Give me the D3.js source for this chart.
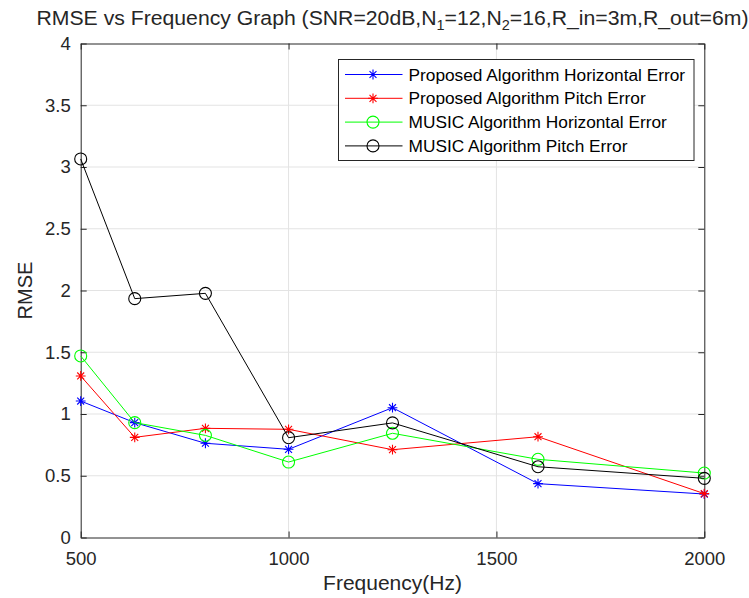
<!DOCTYPE html>
<html lang="en">
<head>
<meta charset="utf-8">
<script src="https://cdn.jsdelivr.net/npm/d3@7"></script>
<style>
  body { margin: 0; background: #fff; }
  svg text { font-family: "Liberation Sans", Arial, Helvetica, sans-serif; fill: #262626; }
  .legend text { fill: #000; }
</style>
</head>
<body>
<div id="chart"></div>
<script>
  // data
  let freqs = [500, 630, 800, 1000, 1250, 1600, 2000]
  let propHoriz = [1.105, 0.93, 0.763, 0.714, 1.051, 0.436, 0.352]
  let propPitch = [1.308, 0.811, 0.884, 0.876, 0.711, 0.816, 0.355]
  let musicHoriz = [1.47, 0.93, 0.827, 0.611, 0.844, 0.633, 0.522]
  let musicPitch = [3.065, 1.934, 1.977, 0.808, 0.928, 0.573, 0.479]
  let xTicks = [500, 1000, 1500, 2000]
  let yTicks = [0, 0.5, 1, 1.5, 2, 2.5, 3, 3.5, 4]
  let seriesNames = ['Proposed Algorithm Horizontal Error', 'Proposed Algorithm Pitch Error',
                     'MUSIC Algorithm Horizontal Error', 'MUSIC Algorithm Pitch Error']

  let w = 749
  let h = 598
  let padding = { left: 80.7, right: 44.7, top: 43.5, bottom: 60.5 }

  let series = [
    { name: seriesNames[0], values: propHoriz, color: '#0000ff', marker: 'star' },
    { name: seriesNames[1], values: propPitch, color: '#ff0000', marker: 'star' },
    { name: seriesNames[2], values: musicHoriz, color: '#00ff00', marker: 'circle' },
    { name: seriesNames[3], values: musicPitch, color: '#000000', marker: 'circle' }
  ]

  let xScale = d3.scaleLinear().domain([500, 2000]).range([padding.left, w - padding.right])
  let yScale = d3.scaleLinear().domain([0, 4]).range([h - padding.bottom, padding.top])

  let svg = d3.select('#chart').append('svg')
      .attr('width', w)
      .attr('height', h)

  // grid
  svg.append('g').selectAll('line')
      .data(xTicks.slice(1, -1))
      .join('line')
      .attr('x1', d => xScale(d)).attr('x2', d => xScale(d))
      .attr('y1', yScale(0)).attr('y2', yScale(4))
      .attr('stroke', '#e3e3e3').attr('stroke-width', 1)
  svg.append('g').selectAll('line')
      .data(yTicks.slice(1, -1))
      .join('line')
      .attr('x1', xScale(500)).attr('x2', xScale(2000))
      .attr('y1', d => yScale(d)).attr('y2', d => yScale(d))
      .attr('stroke', '#e3e3e3').attr('stroke-width', 1)

  // axes: ticks point inward, box on all sides
  let xAxis = d3.axisBottom(xScale).tickValues(xTicks).tickSizeInner(-6).tickSizeOuter(0).tickPadding(14).tickFormat(d3.format('d'))
  let yAxis = d3.axisLeft(yScale).tickValues(yTicks).tickSizeInner(-6).tickSizeOuter(0).tickPadding(10).tickFormat(d3.format('~g'))
  let xTop = d3.axisTop(xScale).tickValues(xTicks).tickSizeInner(-6).tickSizeOuter(0).tickFormat('')
  let yRight = d3.axisRight(yScale).tickValues(yTicks).tickSizeInner(-6).tickSizeOuter(0).tickFormat('')

  function styleAxis(g) {
    g.select('.domain').attr('stroke', '#262626')
    g.selectAll('.tick line').attr('stroke', '#262626')
    g.selectAll('.tick text').attr('font-size', 18.5).attr('fill', '#262626')
      .attr('font-family', '"Liberation Sans", Arial, sans-serif')
  }
  svg.append('g').attr('transform', 'translate(0,' + yScale(0) + ')').call(xAxis).call(styleAxis)
  svg.append('g').attr('transform', 'translate(' + xScale(500) + ',0)').call(yAxis).call(styleAxis)
  svg.append('g').attr('transform', 'translate(0,' + yScale(4) + ')').call(xTop).call(styleAxis)
  svg.append('g').attr('transform', 'translate(' + xScale(2000) + ',0)').call(yRight).call(styleAxis)

  // lines and markers
  let line = d3.line()
      .x((d, i) => xScale(freqs[i]))
      .y(d => yScale(d))

  // matlab style '*' marker: plus and cross together
  function starPath(r) {
    let p = d3.path()
    let k = r * Math.SQRT1_2
    p.moveTo(-r, 0); p.lineTo(r, 0)
    p.moveTo(0, -r); p.lineTo(0, r)
    p.moveTo(-k, -k); p.lineTo(k, k)
    p.moveTo(-k, k); p.lineTo(k, -k)
    return p.toString()
  }

  function drawMarker(g, type, color) {
    if (type === 'star') {
      g.append('path').attr('d', starPath(4.9)).attr('fill', 'none').attr('stroke', color).attr('stroke-width', 1.1)
    } else {
      g.append('circle').attr('r', 6).attr('fill', 'none').attr('stroke', color).attr('stroke-width', 1.1)
    }
  }

  series.forEach(s => {
    svg.append('path')
        .datum(s.values)
        .attr('d', line)
        .attr('fill', 'none')
        .attr('stroke', s.color)
        .attr('stroke-width', 1)
    svg.append('g').selectAll('g')
        .data(s.values)
        .join('g')
        .attr('transform', (d, i) => 'translate(' + xScale(freqs[i]) + ',' + yScale(d) + ')')
        .each(function() { drawMarker(d3.select(this), s.marker, s.color) })
  })

  // legend
  let legend = svg.append('g').attr('class', 'legend').attr('transform', 'translate(338.5,59.5)')
  legend.append('rect')
      .attr('width', 355.5).attr('height', 101)
      .attr('fill', '#fff').attr('stroke', '#262626').attr('stroke-width', 1)
  series.forEach((s, i) => {
    let row = legend.append('g').attr('transform', 'translate(0,' + (15 + i * 23.8) + ')')
    row.append('line').attr('x1', 6.5).attr('x2', 64).attr('stroke', s.color).attr('stroke-width', 1)
    let m = row.append('g').attr('transform', 'translate(34.5,0)')
    drawMarker(m, s.marker, s.color)
    row.append('text').attr('x', 70).attr('y', 6).attr('font-size', 17.3).text(s.name)
  })

  // title
  let title = svg.append('text')
      .attr('x', xScale(1250)).attr('y', 25)
      .attr('text-anchor', 'middle')
      .attr('font-size', 20.5)
      .attr('textLength', 712)
      .attr('lengthAdjust', 'spacingAndGlyphs')
      .attr('fill', '#000')
  title.append('tspan').text('RMSE vs Frequency Graph (SNR=20dB,N')
  title.append('tspan').attr('font-size', 14).attr('dy', 5).text('1')
  title.append('tspan').attr('dy', -5).text('=12,N')
  title.append('tspan').attr('font-size', 14).attr('dy', 5).text('2')
  title.append('tspan').attr('dy', -5).text('=16,R_in=3m,R_out=6m)')

  // axis labels
  svg.append('text')
      .attr('x', xScale(1250)).attr('y', 590)
      .attr('text-anchor', 'middle')
      .attr('font-size', 21)
      .text('Frequency(Hz)')
  svg.append('text')
      .attr('transform', 'translate(32,' + yScale(2) + ') rotate(-90)')
      .attr('text-anchor', 'middle')
      .attr('font-size', 20)
      .text('RMSE')
</script>
</body>
</html>
